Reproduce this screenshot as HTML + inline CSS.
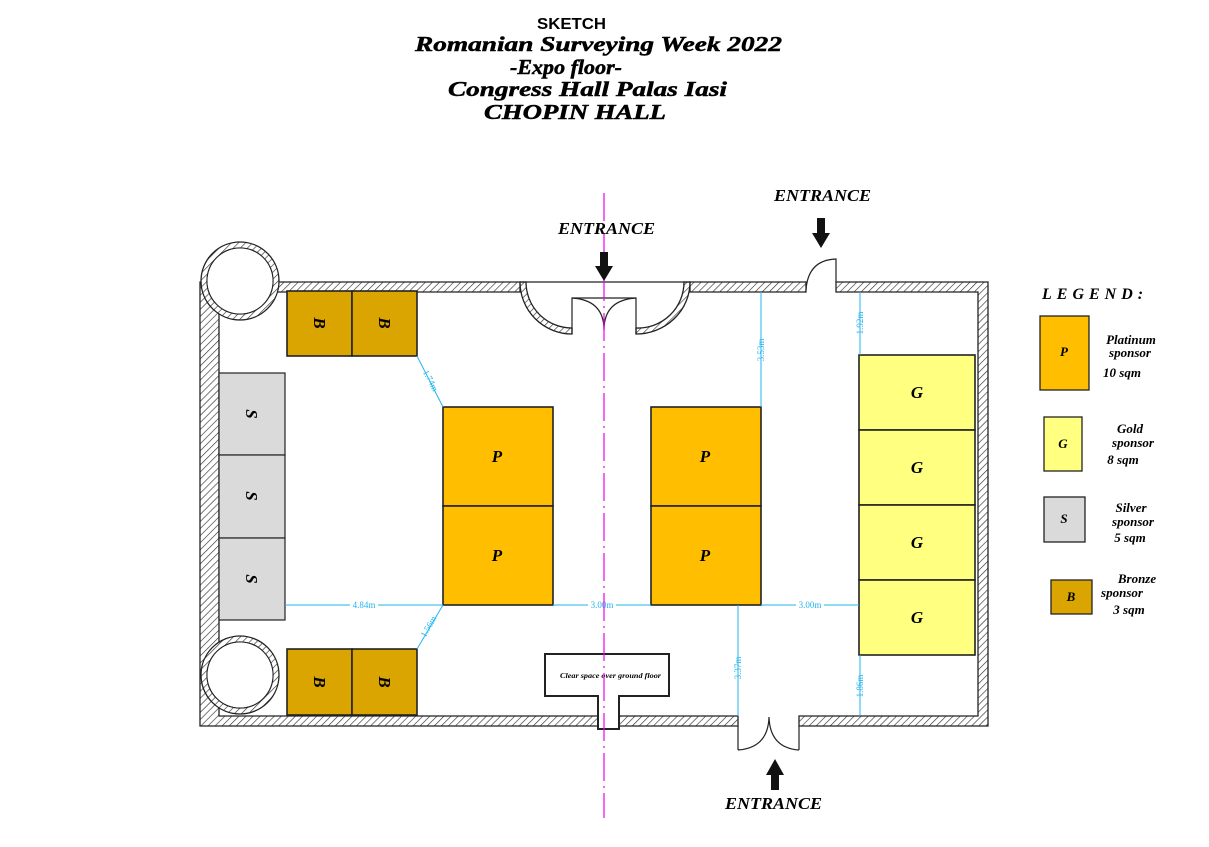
<!DOCTYPE html>
<html><head><meta charset="utf-8"><style>
html,body{margin:0;padding:0;background:#fff;}
svg{display:block;}
.t{font-family:"Liberation Serif",serif;font-style:italic;font-weight:bold;}
.ti{stroke:#000;stroke-width:0.5;}
</style></head><body>
<svg width="1209" height="847" viewBox="0 0 1209 847" xmlns="http://www.w3.org/2000/svg">
<defs>
<pattern id="h" width="5" height="5" patternUnits="userSpaceOnUse" patternTransform="rotate(45)">
<rect width="5" height="5" fill="#fff"/><line x1="0" y1="0" x2="0" y2="5" stroke="#333" stroke-width="1.3"/>
</pattern>
</defs>
<!-- title -->
<text x="537" y="29" font-family="Liberation Sans,sans-serif" font-weight="bold" font-size="16" textLength="69" lengthAdjust="spacingAndGlyphs">SKETCH</text>
<g class="t ti" font-size="21">
<text x="415" y="51" textLength="367" lengthAdjust="spacingAndGlyphs">Romanian Surveying Week 2022</text>
<text x="510" y="74" textLength="112" lengthAdjust="spacingAndGlyphs">-Expo floor-</text>
<text x="448" y="96" textLength="279" lengthAdjust="spacingAndGlyphs">Congress Hall Palas Iasi</text>
<text x="484" y="119" textLength="182" lengthAdjust="spacingAndGlyphs">CHOPIN HALL</text>
</g>

<!-- walls -->
<g stroke="#222" stroke-width="1.3" fill="url(#h)">
<path d="M200,282 H520 V292 H219 V716 H598 V726 H200 Z"/>
<path d="M690,282 H806 V292 H690 Z"/>
<path d="M836,282 H988 V726 H799 V716 H978 V292 H836 Z"/>
<path d="M619,716 H738 V726 H619 Z"/>
<path fill-rule="evenodd" d="M201,281 a39,39 0 1,0 78,0 a39,39 0 1,0 -78,0 Z M207,281 a33,33 0 1,0 66,0 a33,33 0 1,0 -66,0 Z"/>
<path fill-rule="evenodd" d="M201,675 a39,39 0 1,0 78,0 a39,39 0 1,0 -78,0 Z M207,675 a33,33 0 1,0 66,0 a33,33 0 1,0 -66,0 Z"/>
<path d="M520,282 H526 A46,46 0 0,0 572,328 V334 A52,52 0 0,1 520,282 Z"/>
<path d="M690,282 H684 A46,46 0 0,1 636,328 V334 A54,52 0 0,0 690,282 Z"/>
</g>
<g fill="#fff" stroke="none">
<circle cx="240" cy="281" r="32.5"/><circle cx="240" cy="675" r="32.5"/>
</g>
<g fill="none" stroke="#222" stroke-width="1.2">
<line x1="520" y1="282" x2="690" y2="282"/>
<path d="M572,334 V298 H604 M636,334 V298 H604"/>
<path d="M572,298 Q604,300 604,330 Q604,300 636,298"/>
<path d="M806,290 Q808,260 836,259 V282"/>
<path d="M738,726 V750 M799,726 V750"/>
<path d="M738,750 Q768,748 769,717 Q770,748 799,750"/>
</g>
<!-- clear space -->
<path d="M545,654 H669 V696 H619 V729 H598 V696 H545 Z" fill="#fff" stroke="#222" stroke-width="2"/>
<text x="560" y="678" class="t" font-size="7.5" textLength="101" lengthAdjust="spacingAndGlyphs">Clear space over ground floor</text>

<!-- booths -->
<g stroke="#222" stroke-width="1.6">
<g fill="#DAA500">
<rect x="287" y="291" width="65" height="65"/><rect x="352" y="291" width="65" height="65"/>
<rect x="287" y="649" width="65" height="66"/><rect x="352" y="649" width="65" height="66"/>
</g>
<g fill="#DADADA" stroke-width="1.2">
<rect x="219" y="373" width="66" height="82"/><rect x="219" y="455" width="66" height="83"/><rect x="219" y="538" width="66" height="82"/>
</g>
<g fill="#FFBF00">
<rect x="443" y="407" width="110" height="99"/><rect x="443" y="506" width="110" height="99"/>
<rect x="651" y="407" width="110" height="99"/><rect x="651" y="506" width="110" height="99"/>
</g>
<g fill="#FFFF80">
<rect x="859" y="355" width="116" height="75"/><rect x="859" y="430" width="116" height="75"/>
<rect x="859" y="505" width="116" height="75"/><rect x="859" y="580" width="116" height="75"/>
</g>
</g>
<g class="t" font-size="17" text-anchor="middle">
<text transform="translate(314,323) rotate(90)">B</text>
<text transform="translate(379,323) rotate(90)">B</text>
<text transform="translate(314,682) rotate(90)">B</text>
<text transform="translate(379,682) rotate(90)">B</text>
<text transform="translate(246,414) rotate(90)">S</text>
<text transform="translate(246,496) rotate(90)">S</text>
<text transform="translate(246,579) rotate(90)">S</text>
<text x="497" y="462">P</text><text x="497" y="561">P</text>
<text x="705" y="462">P</text><text x="705" y="561">P</text>
<text x="917" y="398">G</text><text x="917" y="473">G</text>
<text x="917" y="548">G</text><text x="917" y="623">G</text>
</g>

<!-- dimensions -->
<g stroke="#22B5EE" stroke-width="1" fill="none">
<line x1="285" y1="605" x2="443" y2="605"/>
<line x1="553" y1="605" x2="651" y2="605"/>
<line x1="761" y1="605" x2="859" y2="605"/>
<line x1="417" y1="356" x2="443" y2="407"/>
<line x1="417" y1="649" x2="443" y2="605"/>
<line x1="761" y1="292" x2="761" y2="407"/>
<line x1="860" y1="292" x2="860" y2="355"/>
<line x1="738" y1="605" x2="738" y2="716"/>
<line x1="860" y1="655" x2="860" y2="716"/>
</g>
<g font-family="Liberation Serif,serif" font-size="9" fill="#22B5EE" text-anchor="middle">
<rect x="350" y="600" width="28" height="10" fill="#fff"/><text x="364" y="608">4.84m</text>
<rect x="588" y="600" width="28" height="10" fill="#fff"/><text x="602" y="608">3.00m</text>
<rect x="796" y="600" width="28" height="10" fill="#fff"/><text x="810" y="608">3.00m</text>
<text transform="translate(428,382) rotate(62)">1.74m</text>
<text transform="translate(431,628) rotate(-60)">1.56m</text>
<text transform="translate(764,350) rotate(-90)">3.53m</text>
<text transform="translate(863,323) rotate(-90)">1.92m</text>
<text transform="translate(741,668) rotate(-90)">3.37m</text>
<text transform="translate(863,686) rotate(-90)">1.86m</text>
</g>

<!-- axis -->
<line x1="604" y1="193" x2="604" y2="818" stroke="#EE00EE" stroke-width="1.2" stroke-dasharray="28,5,2,5"/>

<!-- entrances -->
<g fill="#111">
<path d="M600,252 H608 V266 H613 L604,281 L595,266 H600 Z"/>
<path d="M817,218 H825 V233 H830 L821,248 L812,233 H817 Z"/>
<path d="M771,790 H779 V775 H784 L775,759 L766,775 H771 Z"/>
</g>
<g class="t" font-size="17">
<text x="558" y="234" textLength="97" lengthAdjust="spacingAndGlyphs">ENTRANCE</text>
<text x="774" y="201" textLength="97" lengthAdjust="spacingAndGlyphs">ENTRANCE</text>
<text x="725" y="809" textLength="97" lengthAdjust="spacingAndGlyphs">ENTRANCE</text>
</g>

<!-- legend -->
<text x="1042" y="299" class="t" font-size="16" letter-spacing="5">LEGEND:</text>
<g stroke="#222" stroke-width="1.3">
<rect x="1040" y="316" width="49" height="74" fill="#FFBF00"/>
<rect x="1044" y="417" width="38" height="54" fill="#FFFF80"/>
<rect x="1044" y="497" width="41" height="45" fill="#DADADA"/>
<rect x="1051" y="580" width="41" height="34" fill="#DAA500"/>
</g>
<g class="t" font-size="13" text-anchor="middle">
<text x="1064" y="356">P</text><text x="1063" y="448">G</text>
<text x="1064" y="523">S</text><text x="1071" y="601">B</text>
<text x="1131" y="344">Platinum</text><text x="1130" y="357">sponsor</text><text x="1122" y="377">10 sqm</text>
<text x="1130" y="433">Gold</text><text x="1133" y="447">sponsor</text><text x="1123" y="464">8 sqm</text>
<text x="1131" y="512">Silver</text><text x="1133" y="526">sponsor</text><text x="1130" y="542">5 sqm</text>
<text x="1137" y="583">Bronze</text><text x="1122" y="597">sponsor</text><text x="1129" y="614">3 sqm</text>
</g>
</svg>
</body></html>
